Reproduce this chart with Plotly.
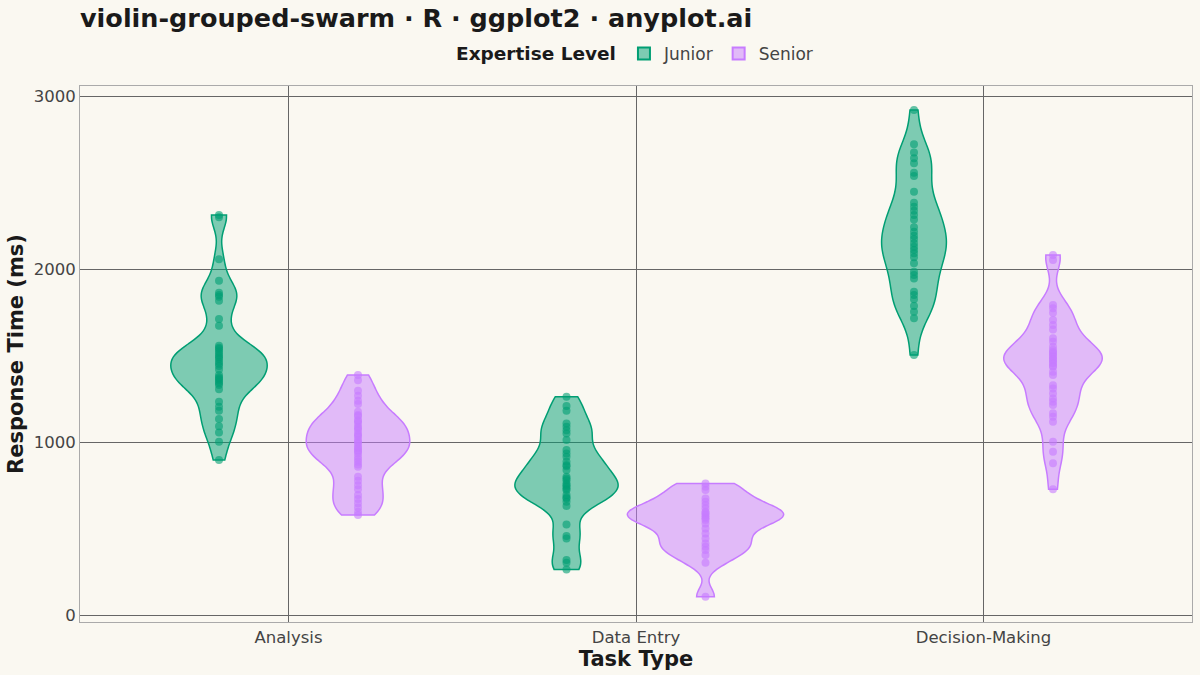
import numpy as np
import plotly.graph_objects as go

CATEGORIES = ["Analysis", "Data Entry", "Decision-Making"]
GROUPS = ["Junior", "Senior"]

analysis_junior = [2312, 2300, 2056, 1932, 1863, 1850, 1840, 1817, 1711, 1672, 1557, 1545,
                   1538, 1525, 1513, 1500, 1490, 1480, 1464, 1452, 1440, 1420, 1387, 1375,
                   1368, 1360, 1349, 1340, 1330, 1305, 1233, 1204, 1181, 1133, 1092, 1056,
                   1002, 896]
analysis_senior = [1387, 1358, 1297, 1268, 1239, 1220, 1175, 1156, 1150, 1127, 1120, 1108,
                   1089, 1080, 1069, 1050, 1040, 1031, 1012, 1000, 992,
                   973, 965, 954, 945, 934, 915, 900, 886, 870, 857, 800,
                   777, 751, 727, 694, 671, 646, 622, 597, 578]
dataentry_junior = [1262, 1208, 1181, 1108, 1089, 1069, 1050, 1012, 954, 934, 915, 886, 867,
                    860, 838, 800, 790, 780, 761, 750, 742, 730, 723, 694, 680, 674,
                    655, 630, 524, 457, 443, 318, 302, 264]
dataentry_senior = [761, 742, 723, 674, 655, 636, 617, 597, 590, 580, 568, 560, 549, 530,
                    501, 472, 443, 414, 395, 376, 347, 302, 106]
decision_junior = [2919, 2721, 2674, 2640, 2611, 2557, 2538, 2447, 2383, 2360, 2337, 2312,
                   2287, 2241, 2216, 2193, 2173, 2149, 2129, 2110, 2091, 2068, 2033, 1985,
                   1965, 1946, 1869, 1850, 1825, 1786, 1753, 1715, 1503]
decision_senior = [2081, 2052, 1792, 1773, 1747, 1705, 1676, 1651, 1600, 1580, 1551, 1532,
                   1520, 1513, 1500, 1493, 1480, 1474, 1460, 1455, 1440, 1436, 1406, 1387,
                   1329, 1310, 1281, 1252, 1233, 1214, 1166, 1146, 1117, 1002, 944, 877, 727]

DATA = {
    "Junior": [analysis_junior, dataentry_junior, decision_junior],
    "Senior": [analysis_senior, dataentry_senior, decision_senior],
}

FILL = {"Junior": "rgba(0,158,115,0.5)", "Senior": "rgba(199,124,255,0.5)"}
LINE = {"Junior": "#009E73", "Senior": "#C77CFF"}
PT = {"Junior": "rgba(0,158,115,0.6)", "Senior": "rgba(199,124,255,0.6)"}
DODGE = {"Junior": -0.2, "Senior": 0.2}
MAX_WIDTH = 0.45
ADJUST = 0.75


def bw_nrd0(v):
    v = np.asarray(v, dtype=float)
    sd = v.std(ddof=1)
    iqr = np.subtract(*np.percentile(v, [75, 25]))
    lo = min(sd, iqr / 1.34) if iqr > 0 else sd
    return ADJUST * 0.9 * lo * len(v) ** (-0.2)


def max_density(v, bw):
    v = np.asarray(v, dtype=float)
    grid = np.linspace(v.min(), v.max(), 512)
    d = np.exp(-0.5 * ((grid[:, None] - v[None, :]) / bw) ** 2).sum(1)
    return (d / (len(v) * bw * np.sqrt(2 * np.pi))).max()


bws = {g: [bw_nrd0(v) for v in DATA[g]] for g in GROUPS}
dens = {g: [max_density(v, b) for v, b in zip(DATA[g], bws[g])] for g in GROUPS}
gmax = max(max(dens[g]) for g in GROUPS)

fig = go.Figure()
for g in GROUPS:
    for i, cat in enumerate(CATEGORIES):
        vals = DATA[g][i]
        fig.add_trace(go.Violin(
            x0=i + DODGE[g],
            y=vals,
            name=g,
            legendgroup=g,
            showlegend=(i == 0),
            width=MAX_WIDTH * dens[g][i] / gmax,
            scalemode="width",
            spanmode="hard",
            bandwidth=bws[g][i],
            fillcolor=FILL[g],
            line=dict(color=LINE[g], width=1.5),
            points="all",
            pointpos=0,
            jitter=0,
            marker=dict(color=PT[g], size=8, line=dict(width=0)),
            box_visible=False,
            meanline_visible=False,
            hoverinfo="y",
        ))

BG = "#FAF8F1"
fig.update_layout(
    width=1200, height=675,
    paper_bgcolor=BG, plot_bgcolor=BG,
    margin=dict(l=80, r=8, t=86, b=53),
    font=dict(family="DejaVu Sans", color="#444444"),
    title=dict(text="<b>violin-grouped-swarm · R · ggplot2 · anyplot.ai</b>",
               x=80 / 1200, xanchor="left", y=1 - 18 / 675, yanchor="middle",
               font=dict(size=25.5, color="#1a1a1a")),
    legend=dict(orientation="h", x=0.5, xanchor="center", y=1.06, yanchor="middle",
                title=dict(text="<b>Expertise Level</b>", font=dict(size=18.5, color="#1a1a1a")),
                font=dict(size=17, color="#444444"), bgcolor="rgba(0,0,0,0)",
                itemsizing="constant"),
    showlegend=True,
)
fig.update_xaxes(
    range=[-0.6, 2.6], tickmode="array", tickvals=list(range(len(CATEGORIES))),
    ticktext=CATEGORIES, tickfont=dict(size=16.5, color="#444444"),
    showgrid=True, gridcolor="#666666", gridwidth=1, zeroline=False,
    showline=True, linecolor="#AAAAAA", linewidth=1, mirror=True, ticks="",
    title=dict(text="<b>Task Type</b>", font=dict(size=21, color="#1a1a1a"), standoff=2),
)
fig.update_yaxes(
    range=[-40, 3058], tickvals=[0, 1000, 2000, 3000], tickfont=dict(size=16.5, color="#444444"),
    showgrid=True, gridcolor="#666666", gridwidth=1, zeroline=False,
    showline=True, linecolor="#AAAAAA", linewidth=1, mirror=True, ticks="",
    title=dict(text="<b>Response Time (ms)</b>", font=dict(size=21, color="#1a1a1a"), standoff=4),
)

fig.write_html("out.html", config={"displayModeBar": False},
               post_script="document.body.style.margin='0';")
